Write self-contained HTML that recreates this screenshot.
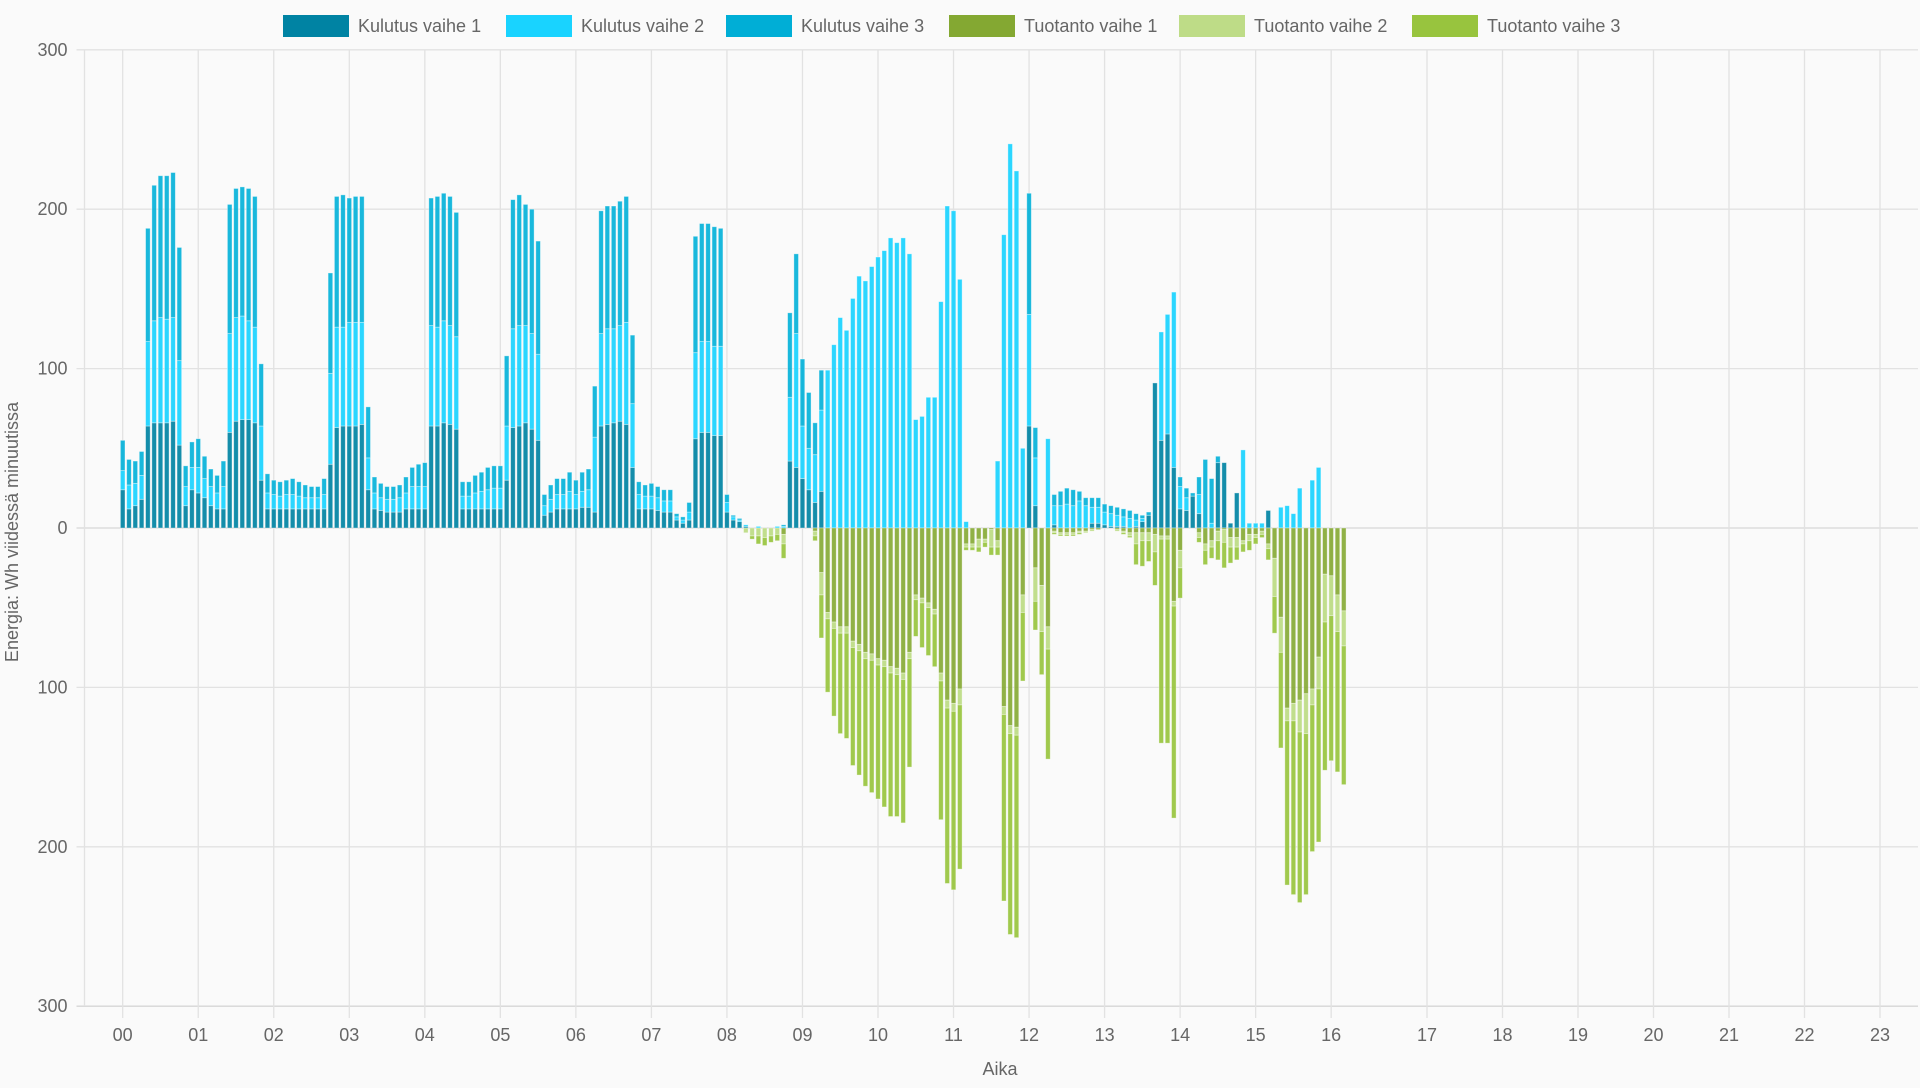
<!DOCTYPE html>
<html><head><meta charset="utf-8"><style>
html,body{margin:0;padding:0;background:#fafafa;}
body{width:1920px;height:1088px;overflow:hidden;font-family:"Liberation Sans",sans-serif;}
svg{display:block}
</style></head><body>
<svg id="chart" width="1920" height="1088" xmlns="http://www.w3.org/2000/svg" font-family="Liberation Sans, sans-serif">
<rect width="1920" height="1088" fill="#fafafa"/>
<g id="grid"></g>
<g id="bars"></g>
<g id="axes"></g>
<g id="legend"></g>
<text x="0" y="0" transform="translate(18,532) rotate(-90)" text-anchor="middle" font-size="18" fill="#666">Energia: Wh viidessä minuutissa</text>
<text x="1000" y="1075" text-anchor="middle" font-size="18" fill="#666">Aika</text>
</svg>
<script>
const hours=["00","01","02","03","04","05","06","07","08","09","10","11","12","13","14","15","16","17","18","19","20","21","22","23"];
const yTicks=[300,200,100,0,-100,-200,-300];
const seriesNames=["Kulutus vaihe 1","Kulutus vaihe 2","Kulutus vaihe 3","Tuotanto vaihe 1","Tuotanto vaihe 2","Tuotanto vaihe 3"];
const k1=[24,12,14,18,64,66,66,66,67,52,14,24,
22,19,14,12,12,60,67,68,68,66,30,12,
12,12,12,12,12,12,12,12,12,40,63,64,
64,64,65,24,12,11,10,10,10,12,12,12,
12,64,64,66,65,62,12,12,12,12,12,12,
12,30,63,64,66,62,55,8,10,12,12,12,
12,13,13,10,64,65,66,67,65,38,12,12,
12,11,10,10,5,3,5,56,60,60,58,58,
10,5,4,1,0,0,0,0,0,0,42,38,
31,24,16,23,0,0,0,0,0,0,0,0,
0,0,0,0,0,0,0,0,0,0,0,0,
0,0,0,0,0,0,0,0,0,0,0,0,
64,14,0,0,2,0,0,0,0,0,3,3,
2,1,1,1,0,1,4,8,91,55,59,38,
12,11,20,9,0,0,41,41,3,22,0,0,
0,0,11,0,0,0,0,0,0,0,0,0,
0,0,0];
const k2=[12,15,14,15,53,64,66,65,65,53,12,14,
16,12,12,10,14,62,65,65,62,60,34,10,
9,8,9,9,8,7,7,7,9,57,63,62,
65,65,64,20,10,8,8,8,9,10,14,14,
14,63,62,64,62,58,8,8,10,11,12,13,
13,34,62,63,61,60,54,6,8,9,9,11,
9,10,11,47,58,60,59,60,64,40,9,8,
8,8,7,7,2,2,5,54,57,57,56,56,
6,2,1,1,0,1,0,0,1,1,40,84,
33,26,30,51,99,115,132,124,144,158,155,164,
170,174,182,179,182,172,68,70,82,82,142,202,
199,156,4,0,0,0,0,42,184,241,224,50,
70,30,0,56,12,14,15,14,17,14,10,10,
8,8,7,6,6,4,2,0,0,68,75,110,
14,8,0,12,0,3,0,0,0,0,49,3,
3,3,0,0,13,14,9,25,0,30,38,0,
0,0,0];
const k3=[19,16,14,15,71,85,89,90,91,71,13,16,
18,14,11,11,16,81,81,81,83,82,39,12,
9,9,9,10,9,8,7,7,10,63,82,83,
78,79,79,32,10,9,8,8,8,10,12,14,
15,80,82,80,81,78,9,9,11,12,14,14,
14,44,81,82,76,78,71,7,9,10,10,12,
9,12,13,32,77,77,77,78,79,43,8,7,
8,7,7,7,2,2,6,73,74,74,75,74,
5,1,1,0,0,0,0,0,0,1,53,50,
42,35,20,25,0,0,0,0,0,0,0,0,
0,0,0,0,0,0,0,0,0,0,0,0,
0,0,0,0,0,0,0,0,0,0,0,0,
76,19,0,0,7,9,10,10,6,5,6,6,
5,5,5,5,5,4,2,2,0,0,0,0,
6,6,2,11,43,28,4,0,0,0,0,0,
0,0,0,0,0,0,0,0,0,0,0,0,
0,0,0];
const t1=[0,0,0,0,0,0,0,0,0,0,0,0,
0,0,0,0,0,0,0,0,0,0,0,0,
0,0,0,0,0,0,0,0,0,0,0,0,
0,0,0,0,0,0,0,0,0,0,0,0,
0,0,0,0,0,0,0,0,0,0,0,0,
0,0,0,0,0,0,0,0,0,0,0,0,
0,0,0,0,0,0,0,0,0,0,0,0,
0,0,0,0,0,0,0,0,0,0,0,0,
0,0,0,0,0,0,0,0,0,4,0,0,
0,0,2,28,53,59,62,62,71,73,78,79,
82,83,87,88,91,78,42,44,47,51,91,108,
110,101,10,10,7,7,1,8,112,124,125,42,
0,25,36,62,2,3,3,3,2,2,1,1,
0,0,1,2,3,3,3,3,4,5,5,46,
14,0,0,3,10,8,2,1,6,6,8,4,
4,2,10,19,56,113,110,108,104,101,81,29,
30,42,52];
const t2=[0,0,0,0,0,0,0,0,0,0,0,0,
0,0,0,0,0,0,0,0,0,0,0,0,
0,0,0,0,0,0,0,0,0,0,0,0,
0,0,0,0,0,0,0,0,0,0,0,0,
0,0,0,0,0,0,0,0,0,0,0,0,
0,0,0,0,0,0,0,0,0,0,0,0,
0,0,0,0,0,0,0,0,0,0,0,0,
0,0,0,0,0,0,0,0,0,0,0,0,
0,0,0,3,5,5,6,5,4,6,0,0,
0,0,3,14,4,4,4,4,4,4,4,4,
4,4,4,4,4,4,3,3,3,3,5,5,
5,10,2,2,5,2,11,4,5,5,5,11,
0,21,29,14,1,1,1,1,1,1,1,0,
0,0,1,1,2,7,5,5,11,2,2,3,
11,0,0,3,4,4,6,8,6,6,2,4,
2,2,3,24,22,8,11,20,25,10,20,30,
25,23,22];
const t3=[0,0,0,0,0,0,0,0,0,0,0,0,
0,0,0,0,0,0,0,0,0,0,0,0,
0,0,0,0,0,0,0,0,0,0,0,0,
0,0,0,0,0,0,0,0,0,0,0,0,
0,0,0,0,0,0,0,0,0,0,0,0,
0,0,0,0,0,0,0,0,0,0,0,0,
0,0,0,0,0,0,0,0,0,0,0,0,
0,0,0,0,0,0,0,0,0,0,0,0,
0,0,0,0,2,5,5,4,4,9,0,0,
0,0,3,27,46,55,63,66,74,78,80,83,
84,88,90,89,90,68,23,28,30,33,87,110,
112,103,2,2,3,3,5,5,117,126,127,43,
0,18,27,69,1,1,1,1,1,0,0,0,
0,0,0,1,1,13,16,13,21,128,128,133,
19,0,0,3,9,7,12,16,10,8,5,6,
4,2,7,23,60,103,109,107,101,92,96,93,
91,88,87];

const NS="http://www.w3.org/2000/svg";
const X0=122.7, HOURW=75.53, PITCH=HOURW/12, Y0=528, PPU=1.594;
const PLOT_L=84.5, PLOT_R=1918, PLOT_T=50, PLOT_B=1006;
function hourX(h){return h<=16 ? X0+h*HOURW : 1427+(h-17)*75.5;}
function xOf(i){return hourX(Math.floor(i/12)) + (i%12)*PITCH;}
function yOf(v){return Y0 - v*PPU;}
function mk(tag,attrs,parent){const e=document.createElementNS(NS,tag);for(const k in attrs)e.setAttribute(k,attrs[k]);parent.appendChild(e);return e;}

const grid=document.getElementById('grid');
const axes=document.getElementById('axes');
yTicks.forEach(v=>{
  const y=yOf(v);
  const l=mk('line',{x1:PLOT_L-8,x2:PLOT_R,y1:y,y2:y,stroke:(v===0||v===-300)?'#d6d6d6':'#e2e2e2','stroke-width':1.3},grid);
  
  
  const t=mk('text',{x:PLOT_L-17,y:y+6,'text-anchor':'end','font-size':18,fill:'#666'},axes);
  t.textContent=String(Math.abs(v));
  
  
});
const la=mk('line',{x1:PLOT_L,x2:PLOT_L,y1:PLOT_T,y2:PLOT_B,stroke:'#e2e2e2','stroke-width':1.3},grid);


hours.forEach((h,k)=>{
  const x=hourX(k);
  const l=mk('line',{x1:x,x2:x,y1:PLOT_T,y2:PLOT_B+12,stroke:'#e2e2e2','stroke-width':1.3},grid);
  
  
  const t=mk('text',{x:x,y:1041,'text-anchor':'middle','font-size':18,fill:'#666'},axes);
  t.textContent=h;
  
  
});

const colors=['rgba(0,131,163,0.92)','rgba(25,210,255,0.92)','rgba(0,176,216,0.9)','rgba(132,168,50,0.9)','rgba(190,220,135,0.95)','rgba(152,196,62,0.92)'];
const bars=document.getElementById('bars');
const BW=4.6;
const n=k1.length;
for(let i=0;i<n;i++){
  const cx=xOf(i);
  let acc=0;
  [k1,k2,k3].forEach((arr,s)=>{
    const v=arr[i]; if(!v) return;
    const yTop=yOf(acc+v), yBot=yOf(acc);
    const r=mk('rect',{x:cx-BW/2,y:yTop,width:BW,height:yBot-yTop,fill:colors[s],stroke:'rgba(255,255,255,0.45)','stroke-width':0.8},bars);
    
    
    acc+=v;
  });
  acc=0;
  [t1,t2,t3].forEach((arr,s)=>{
    const v=arr[i]; if(!v) return;
    const yTop=yOf(-acc), yBot=yOf(-(acc+v));
    const r=mk('rect',{x:cx-BW/2,y:yTop,width:BW,height:yBot-yTop,fill:colors[s+3],stroke:'rgba(255,255,255,0.45)','stroke-width':0.8},bars);
    
    
    acc+=v;
  });
}

const legend=document.getElementById('legend');
const legendColors=['#0083a3','#19d3ff','#00aed6','#84a832','#bedc87','#98c43e'];
const boxX=[283,506,726,949,1179,1412];
seriesNames.forEach((name,s)=>{
  const g=mk('g',{},legend);
  
  
  mk('rect',{x:boxX[s],y:15,width:66,height:22,fill:legendColors[s]},g);
  const t=mk('text',{x:boxX[s]+75,y:32,'font-size':18,fill:'#666'},g);
  t.textContent=name;
});
</script>
</body></html>
